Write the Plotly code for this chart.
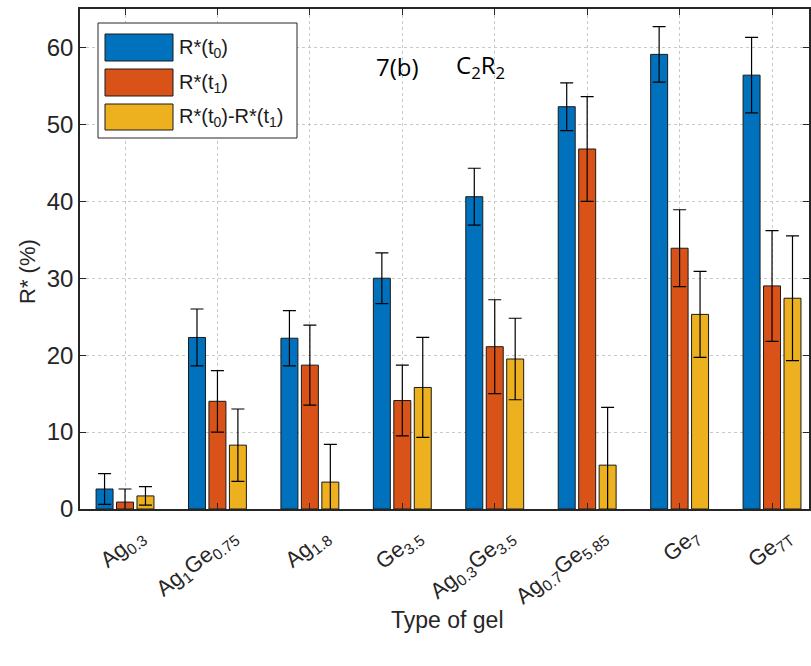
import plotly.graph_objects as go

categories = ["Ag<sub>0.3</sub>", "Ag<sub>1</sub>Ge<sub>0.75</sub>", "Ag<sub>1.8</sub>", "Ge<sub>3.5</sub>",
              "Ag<sub>0.3</sub>Ge<sub>3.5</sub>", "Ag<sub>0.7</sub>Ge<sub>5.85</sub>", "Ge<sub>7</sub>", "Ge<sub>7T</sub>"]
r_t0 = [2.6, 22.3, 22.2, 30.0, 40.6, 52.3, 59.1, 56.4]
r_t0_err = [2.0, 3.7, 3.6, 3.3, 3.7, 3.1, 3.6, 4.9]
r_t1 = [0.9, 14.0, 18.7, 14.1, 21.1, 46.8, 33.9, 29.0]
r_t1_err = [1.7, 4.0, 5.2, 4.6, 6.1, 6.8, 5.0, 7.2]
r_diff = [1.7, 8.3, 3.5, 15.8, 19.5, 5.7, 25.3, 27.4]
r_diff_err = [1.2, 4.7, 4.9, 6.5, 5.3, 7.5, 5.6, 8.1]
series_names = ["R*(t<sub>0</sub>)", "R*(t<sub>1</sub>)", "R*(t<sub>0</sub>)-R*(t<sub>1</sub>)"]
colors = ["#0072BD", "#D95319", "#EDB120"]
y_ticks = [0, 10, 20, 30, 40, 50, 60]

W, H = 811, 666
L, R, T, B = 80, 2, 9, 157
pw, ph = W - L - R, H - T - B
FONT = "Liberation Sans, Arial"

x = list(range(len(categories)))
fig = go.Figure()
for name, vals, errs, col in zip(series_names, [r_t0, r_t1, r_diff], [r_t0_err, r_t1_err, r_diff_err], colors):
    fig.add_trace(go.Bar(
        x=x, y=vals, name=name,
        marker=dict(color=col, line=dict(color="#1a1a1a", width=1)),
        error_y=dict(type="data", array=errs, visible=True, color="black", thickness=1.2, width=6.5),
        showlegend=False,
    ))

def px2x(px):
    return (px - L) / pw

def py2y(py):
    return (H - B - py) / ph

shapes = []
annotations = []
# legend box
shapes.append(dict(type="rect", xref="paper", yref="paper",
                   x0=px2x(98), x1=px2x(297), y0=py2y(138), y1=py2y(23),
                   fillcolor="white", line=dict(color="#262626", width=1), layer="above"))
sw_rows = [(34, 61), (69, 96), (104, 130)]
for (y0, y1), col, name in zip(sw_rows, colors, series_names):
    shapes.append(dict(type="rect", xref="paper", yref="paper",
                       x0=px2x(105), x1=px2x(173), y0=py2y(y1), y1=py2y(y0),
                       fillcolor=col, line=dict(color="#1a1a1a", width=1), layer="above"))
    annotations.append(dict(xref="paper", yref="paper", x=px2x(177), y=py2y((y0 + y1) / 2 + 1),
                            text=name, showarrow=False, xanchor="left", yanchor="middle",
                            font=dict(family=FONT, size=20, color="#1a1a1a")))

annotations.append(dict(xref="paper", yref="paper", x=px2x(397), y=py2y(66),
                        text="7(b)", showarrow=False, xanchor="center", yanchor="middle",
                        font=dict(family="Open Sans, Noto Sans", size=24, color="black")))
annotations.append(dict(xref="paper", yref="paper", x=px2x(480), y=py2y(66),
                        text="C<sub>2</sub>R<sub>2</sub>", showarrow=False, xanchor="center", yanchor="middle",
                        font=dict(family="Open Sans, Noto Sans", size=24, color="black")))
annotations.append(dict(xref="paper", yref="paper", x=px2x(448), y=py2y(620),
                        text="Type of gel", showarrow=False, xanchor="center", yanchor="middle",
                        font=dict(family=FONT, size=23, color="#262626")))
annotations.append(dict(xref="paper", yref="paper", x=px2x(27), y=py2y(272),
                        text="R* (%)", showarrow=False, xanchor="center", yanchor="middle", textangle=-90,
                        font=dict(family=FONT, size=22, color="#262626")))

fig.update_layout(
    width=W, height=H,
    margin=dict(l=L, r=R, t=T, b=B, autoexpand=False),
    paper_bgcolor="white", plot_bgcolor="white",
    barmode="group", bargap=0.336, bargroupgap=0.17,
    shapes=shapes, annotations=annotations,
    font=dict(family=FONT, size=22, color="#262626"),
)
fig.update_xaxes(
    range=[-0.487, 7.40], tickmode="array", tickvals=x, ticktext=categories, tickangle=-38,
    showgrid=True, gridcolor="#c8c8c8", griddash="dot", gridwidth=1,
    showline=True, linecolor="#262626", linewidth=1.5, mirror="ticks",
    ticks="inside", ticklen=6, tickcolor="#262626", zeroline=False,
    tickfont=dict(size=22), ticklabelshift=14, ticklabelstandoff=4,
)
fig.update_yaxes(
    range=[0, 65], tickmode="array", tickvals=y_ticks,
    showgrid=True, gridcolor="#c8c8c8", griddash="dot", gridwidth=1,
    showline=True, linecolor="#262626", linewidth=1.5, mirror="ticks",
    ticks="inside", ticklen=6, tickcolor="#262626", zeroline=False,
    tickfont=dict(size=24),
)

fig.write_html("out.html", config={"displayModeBar": False},
               post_script="document.body.style.margin='0px';document.body.style.overflow='hidden';")
